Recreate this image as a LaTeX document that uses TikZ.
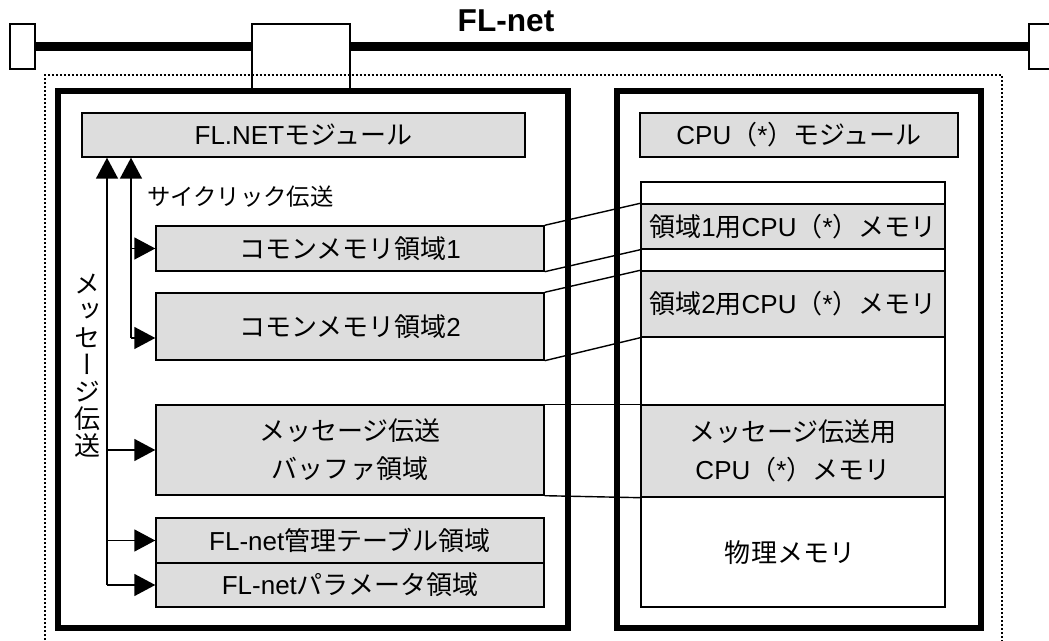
\documentclass[tikz,border=0pt]{standalone}
\usepackage{fontspec}
\setmainfont{Liberation Sans}
\newfontfamily\jp{Noto Sans CJK JP}
\newfontfamily\jpv[RawFeature=+vert]{Noto Sans CJK JP}
\usetikzlibrary{arrows.meta, positioning, fit}
\definecolor{memgray}{HTML}{DDDDDD}
\newcommand{\memfont}{\fontsize{14.8pt}{21.5pt}\selectfont}
\tikzset{
  module/.style={draw=black, line width=3pt, inner sep=0pt},
  membox/.style={
    rectangle, draw=black, fill=memgray, line width=0.8pt, inner sep=0pt,
    label={[memtext]center:#1}
  },
  membox/.default={},
  cellbox/.style={membox, fill=white},
  memtext/.style={align=center, font=\memfont, inner sep=0pt},
  endbox/.style={draw=black, fill=white, line width=1pt, inner sep=0pt},
  bus/.style={line width=0.18cm},
  frame/.style={line width=1.4pt, dash pattern=on 0.04cm off 0.04cm},
  arrow/.style={-{Triangle[length=0.42cm,width=0.44cm]}, line width=0.8pt},
  link/.style={line width=0.8pt},
  note/.style={font=\fontsize{13.3pt}{16pt}\selectfont\jp},
}

\begin{document}
\begin{tikzpicture}[x=0.02cm, y=-0.02cm]
  \useasboundingbox (0,0) rectangle (1049,641);

  % network line
  \node[endbox, fit={(10,24) (35,69)}] (endL) {};
  \node[endbox, fit={(1029,24) (1066,69)}] (endR) {};
  \draw[bus] (endL.east) -- (endR.west);
  \node[font=\bfseries\fontsize{18pt}{20pt}\selectfont] (net) at (506,21) {FL-net};
  \node[endbox, fit={(252,24) (350,89)}] (tap) {};
  \draw[frame] (45,700) -- (45,75) -- (1002,75) -- (1002,700);

  % the two modules
  \node[module, fit={(58,91) (568,628)}] (flside) {};
  \node[module, fit={(617,91) (981,628)}] (cpuside) {};

  \node[membox={FL.NET{\jp モジュール}}, fit={(82,113) (525,157)}] (flmod) {};
  \node[membox={{\jp コモンメモリ領域}1}, fit={(156,226) (544,271)}] (cm1) {};
  \node[membox={{\jp コモンメモリ領域}2}, fit={(156,293) (544,360)}] (cm2) {};
  \node[membox={{\jp メッセージ伝送}\\{\jp バッファ領域}}, fit={(156,405) (544,495)}] (msgbuf) {};
  \node[membox={FL-net{\jp 管理テーブル領域}}, fit={(156,518) (544,563)}] (mgmt) {};
  \node[membox={FL-net{\jp パラメータ領域}}, fit={(156,563) (544,607)}] (param) {};

  \node[membox={CPU{\jp （}*{\jp ）モジュール}}, fit={(640,113) (958,157)}] (cpumod) {};
  \node[cellbox, fit={(641,182) (945,607)}] (phys) {};
  \node[membox={{\jp 領域}1{\jp 用}CPU{\jp （}*{\jp ）メモリ}}, fit={(641,204) (945,249)}] (reg1) {};
  \node[membox={{\jp 領域}2{\jp 用}CPU{\jp （}*{\jp ）メモリ}}, fit={(641,271) (945,337)}] (reg2) {};
  \node[membox={{\jp メッセージ伝送用}\\CPU{\jp （}*{\jp ）メモリ}}, fit={(641,405) (945,497)}] (msgmem) {};
  \node[memtext, font=\memfont\jp] (physlbl) at (790,553) {物理メモリ};

  % mapping lines
  \draw[link] (cm1.north east) -- (reg1.north west);
  \draw[link] (cm1.south east) -- (reg1.south west);
  \draw[link] (cm2.north east) -- (reg2.north west);
  \draw[link] (cm2.south east) -- (reg2.south west);
  \draw[link] (msgbuf.north east) -- (msgmem.north west);
  \draw[link] (msgbuf.south east) -- (msgmem.south west);

  % cyclic transfer
  \coordinate (cycx) at (131,0);
  \coordinate (cycbot) at (131,338);
  \draw[arrow] (cycbot) -- (cycbot |- flmod.south);
  \draw[arrow] (cycx |- cm1.west) -- (cm1.west);
  \draw[arrow] (cycbot) -- (cycbot -| cm2.west);
  \node[note, anchor=west] (cyclbl) at (141,197) {サイクリック伝送};

  % message transfer
  \coordinate (msgx) at (107,0);
  \draw[arrow] (msgx |- param.west) -- (msgx |- flmod.south);
  \draw[arrow] (msgx |- msgbuf.west) -- (msgbuf.west);
  \draw[arrow] (msgx |- mgmt.west) -- (mgmt.west);
  \draw[arrow] (msgx |- param.west) -- (param.west);
  \node[font=\fontsize{14.8pt}{15.4pt}\selectfont\jpv, align=center] (msglbl) at (88,366)
    {メ\\ッ\\セ\\ー\\ジ\\伝\\送};
\end{tikzpicture}
\end{document}
